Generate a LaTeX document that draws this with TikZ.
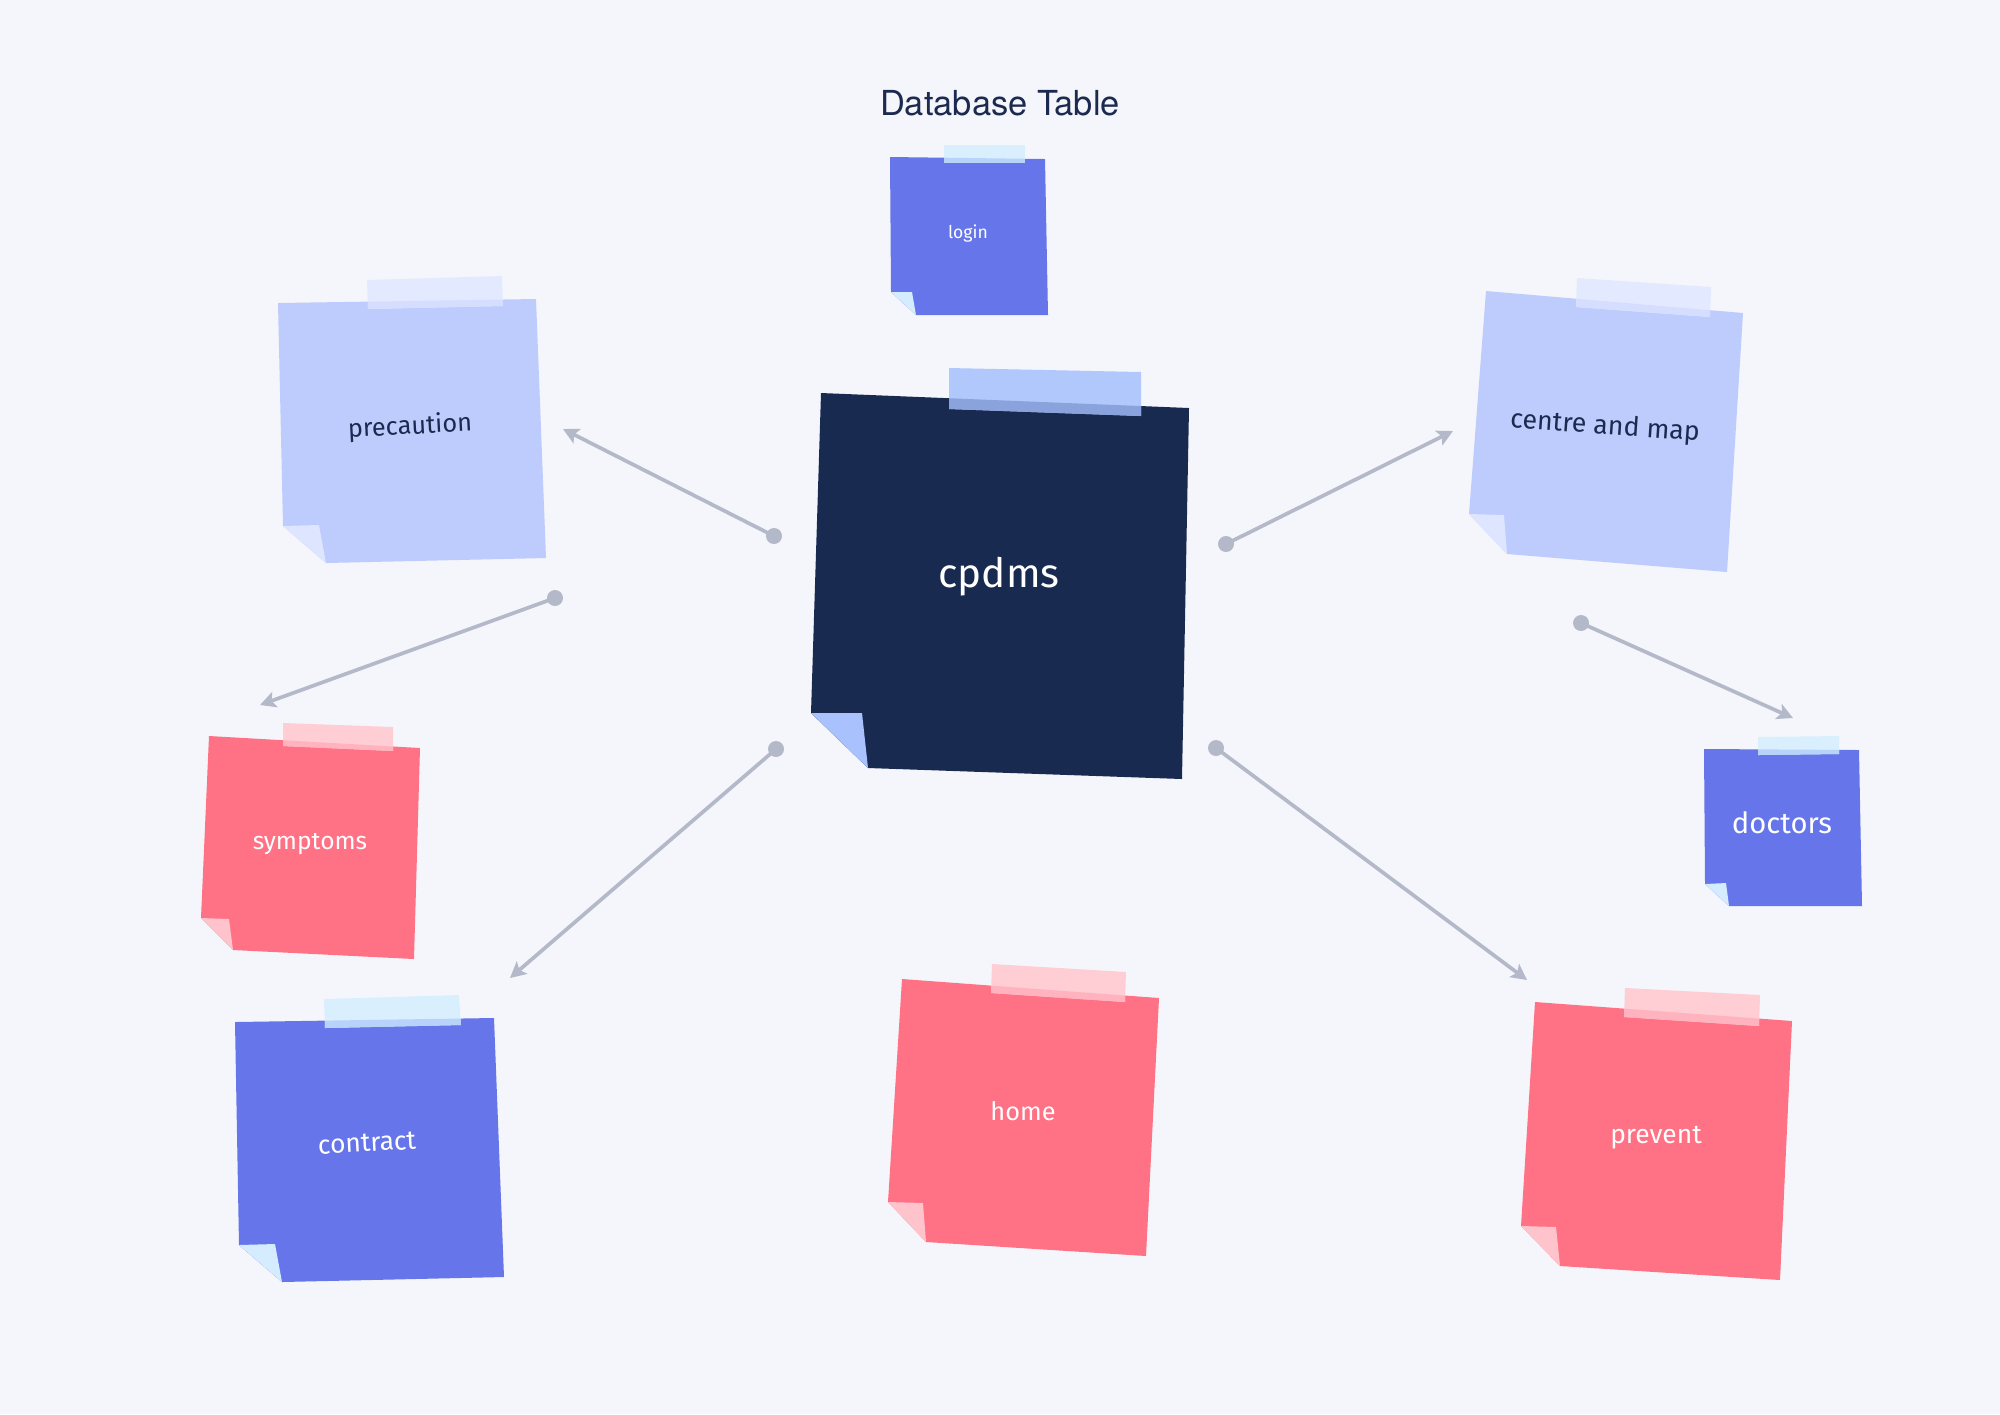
\documentclass[tikz,border=0pt]{standalone}
\usepackage{fontspec}
\setmainfont{Fira Sans}
\newfontfamily\titlefont{TeX Gyre Heros}
\usetikzlibrary{positioning, arrows.meta}

\definecolor{paper}{HTML}{F5F6FB}
\definecolor{ink}{HTML}{1B2A4E}
\definecolor{linkgray}{HTML}{B4B9CA}
\definecolor{navyN}{HTML}{192A51}
\definecolor{navyF}{HTML}{A9C1FC}
\definecolor{navyT}{HTML}{B0C8FB}
\definecolor{navyS}{HTML}{8AA3DD}
\definecolor{blueN}{HTML}{6676EA}
\definecolor{blueF}{HTML}{D4ECFE}
\definecolor{blueT}{HTML}{D9EFFD}
\definecolor{blueS}{HTML}{B8D3FA}
\definecolor{lightN}{HTML}{BDCBFD}
\definecolor{lightF}{HTML}{DEE5FE}
\definecolor{lightT}{HTML}{E3E9FE}
\definecolor{lightS}{HTML}{D5DEFE}
\definecolor{pinkN}{HTML}{FF7184}
\definecolor{pinkF}{HTML}{FFC3CB}
\definecolor{pinkT}{HTML}{FFCDD4}
\definecolor{pinkS}{HTML}{FFB3BE}

% sticky note: #1 colour set, #2 body, #3 folded corner, #4 tape
\newcommand{\stickynote}[4]{%
  \fill[#1 note] #2 -- cycle;
  \fill[#1 fold] #3 -- cycle;
  \fill[#1 tape] #4 -- cycle;
  \begin{scope}
    \clip #2 -- cycle;
    \fill[#1 strip] #4 -- cycle;
  \end{scope}}

\begin{document}
\begin{tikzpicture}[x=0.01cm, y=-0.01cm,
  navy note/.style={fill=navyN}, navy fold/.style={fill=navyF},
  navy tape/.style={fill=navyT}, navy strip/.style={fill=navyS},
  blue note/.style={fill=blueN}, blue fold/.style={fill=blueF},
  blue tape/.style={fill=blueT}, blue strip/.style={fill=blueS},
  light note/.style={fill=lightN}, light fold/.style={fill=lightF},
  light tape/.style={fill=lightT}, light strip/.style={fill=lightS},
  pink note/.style={fill=pinkN}, pink fold/.style={fill=pinkF},
  pink tape/.style={fill=pinkT}, pink strip/.style={fill=pinkS},
  label/.style={inner sep=0pt, text=white, font=\fontsize{7.5}{9}\selectfont},
  dark label/.style={label, text=ink},
  dot/.style={circle, fill=linkgray, inner sep=0pt, minimum size=0.16cm},
  link/.style={draw=linkgray, line width=1.05pt, -{Stealth[length=4.5pt, width=4.6pt, inset=1pt]}}]
\useasboundingbox[fill=paper] (0,0) rectangle (2000,1414);

% title
\node[anchor=base, text=ink, font=\titlefont\fontsize{9.8}{12}\selectfont] (title) at (1000,115) {Database Table};

% notes
\stickynote{blue}{(890,157) -- (1045,159) -- (1048,315) -- (916,315) -- (891,292)}
  {(891,292) -- (912,292) -- (916,315)}{(944,145) -- (1025,145) -- (1025,163) -- (944,163)}
\stickynote{navy}{(821,393) -- (1189,408) -- (1182,779) -- (868,768) -- (811,713)}
  {(811,713) -- (862,713) -- (868,768)}{(949,368) -- (1141,372) -- (1141,416) -- (949,409)}
\stickynote{light}{(1486,291) -- (1743,313) -- (1727,572) -- (1507,554) -- (1469,514)}
  {(1469,514) -- (1504,515) -- (1507,554)}{(1577,278) -- (1711,287) -- (1710,317) -- (1576,307)}
\stickynote{light}{(278,303) -- (536,299) -- (546,558) -- (326,563) -- (283,526)}
  {(283,526) -- (319,525) -- (326,563)}{(367,280) -- (502,276) -- (503,306) -- (368,309)}
\stickynote{pink}{(209,736) -- (420,748) -- (414,959) -- (233,950) -- (201,918)}
  {(201,918) -- (229,919) -- (233,950)}{(283,723) -- (393,727) -- (393,751) -- (283,746)}
\stickynote{blue}{(235,1022) -- (494,1018) -- (504,1277) -- (282,1282) -- (239,1245)}
  {(239,1245) -- (275,1244) -- (282,1282)}{(324,999) -- (459,995) -- (461,1025) -- (325,1028)}
\stickynote{pink}{(902,979) -- (1159,998) -- (1146,1256) -- (926,1242) -- (888,1202)}
  {(888,1202) -- (923,1203) -- (926,1242)}{(992,964) -- (1126,972) -- (1125,1002) -- (991,993)}
\stickynote{pink}{(1535,1002) -- (1792,1021) -- (1780,1280) -- (1560,1266) -- (1521,1226)}
  {(1521,1226) -- (1556,1227) -- (1560,1266)}{(1625,988) -- (1760,995) -- (1759,1026) -- (1624,1017)}
\stickynote{blue}{(1704,749) -- (1859,750) -- (1862,906) -- (1729,906) -- (1705,884)}
  {(1705,884) -- (1726,883) -- (1729,906)}{(1758,737) -- (1839,736) -- (1839,754) -- (1758,755)}

% labels
\node[label, font=\fontsize{5}{6}\selectfont] (login) at (968,234) {login};
\node[label, font=\fontsize{11.5}{14}\selectfont] (cpdms) at (999,577) {cpdms};
\node[dark label, font=\fontsize{7.6}{9}\selectfont, rotate=-4] (centre) at (1605,427) {centre and map};
\node[dark label, font=\fontsize{7.2}{9}\selectfont, rotate=3] (precaution) at (410,427) {precaution};
\node[label, font=\fontsize{7}{9}\selectfont] (symptoms) at (310,844) {symptoms};
\node[label, rotate=3] (contract) at (367,1143) {contract};
\node[label, font=\fontsize{7.2}{9}\selectfont] (home) at (1023,1111) {home};
\node[label] (prevent) at (1656,1138) {prevent};
\node[label, font=\fontsize{8.3}{10}\selectfont] (doctors) at (1782,823) {doctors};

% connectors
\node[dot] (d1) at (774,536) {};
\node[dot] (d2) at (555,598) {};
\node[dot] (d3) at (776,749) {};
\node[dot] (d4) at (1226,544) {};
\node[dot] (d5) at (1216,748) {};
\node[dot] (d6) at (1581,623) {};
\coordinate (t1) at (563,429);
\coordinate (t2) at (260,705);
\coordinate (t3) at (510,978);
\coordinate (t4) at (1453,431);
\coordinate (t5) at (1527,980);
\coordinate (t6) at (1793,718);
\foreach \i in {1,...,6}
  \draw[link] (d\i.center) -- (t\i);
\end{tikzpicture}
\end{document}
